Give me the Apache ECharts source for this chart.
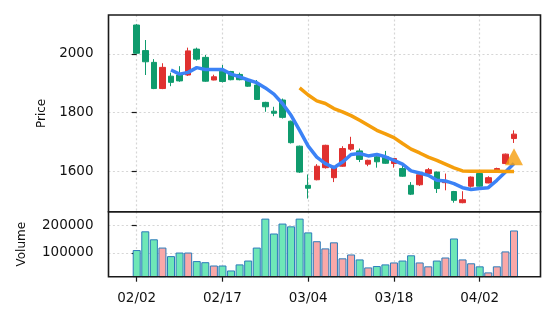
<!DOCTYPE html>
<html><head><meta charset="utf-8">
<script src="https://cdn.jsdelivr.net/npm/echarts@6/dist/echarts.min.js"></script>
<style>html,body{margin:0;padding:0;background:#fff}#c{width:556px;height:322px}</style>
</head><body><div id="c"></div>
<script>
const dates = ['02/02','02/03','02/04','02/05','02/06','02/09','02/10','02/12','02/13','02/16',
  '02/17','02/18','02/19','02/20','02/24','02/25','02/26','02/27','03/02','03/03',
  '03/04','03/05','03/06','03/09','03/10','03/11','03/12','03/13','03/16','03/17',
  '03/18','03/19','03/23','03/24','03/25','03/26','03/27','03/30','03/31','04/01',
  '04/02','04/03','04/06','04/07','04/08'];
const opens  = [2098,2011,1971,1882,1924,1928,1928,2016,1988,1911,1941,1940,1930,1913,1894,1835,1805,1843,1771,1686,
  1553,1572,1613,1579,1618,1676,1670,1625,1650,1650,1627,1610,1553,1555,1593,1598,1562,1532,1494,1550,1593,1561,1598,1627,1712];
const closes = [2002,1973,1882,1954,1903,1908,2010,1982,1907,1922,1906,1912,1912,1890,1845,1820,1798,1784,1698,1598,
  1543,1618,1689,1615,1678,1692,1641,1638,1633,1628,1644,1584,1523,1589,1606,1542,1566,1502,1504,1581,1550,1579,1610,1659,1727];
const lows   = [2000,1928,1880,1880,1890,1905,1925,1977,1905,1910,1903,1910,1910,1888,1843,1803,1788,1780,1695,1595,
  1508,1570,1610,1564,1616,1670,1632,1618,1613,1626,1613,1582,1520,1551,1590,1527,1536,1494,1492,1545,1548,1560,1596,1625,1697];
const highs  = [2101,2047,1982,1968,1936,1958,2021,2021,1996,1929,1962,1942,1936,1915,1911,1837,1820,1848,1773,1688,
  1590,1625,1691,1620,1686,1718,1678,1640,1652,1670,1646,1621,1564,1591,1612,1600,1593,1534,1533,1583,1595,1584,1613,1661,1740];
const volumes = [110000,178000,149000,119000,88000,101000,101000,70000,66000,54000,54000,36000,58000,72000,119000,224000,170000,206000,196000,224000,
  174000,142000,116000,138000,80000,94000,76000,47000,52000,58000,65000,72000,91000,65000,51000,72000,83000,152000,76000,62000,51000,29000,51000,105000,181000];
const maShort = [null,null,null,null,1945,1931,1937,1953,1947,1947,1947,1931,1922,1911,1902,1884,1863,1831,1791,1740,
  1686,1649,1627,1613,1632,1658,1661,1653,1658,1650,1638,1625,1602,1595,1587,1570,1568,1559,1545,1539,1542,1545,1570,1598,1627];
const maLong = [null,null,null,null,null,null,null,null,null,null,null,null,null,null,null,null,null,null,null,1884,
  1860,1840,1831,1814,1803,1790,1774,1757,1740,1728,1715,1695,1676,1663,1649,1638,1625,1612,1602,1601,1601,1601,1601,1600,1600];
const signalIndex = [44];
const signalPrice = [1650];
const priceTicks = [1600,1800,2000];
const volumeTicks = [100000,200000];
const dateTicks = [0,10,20,30,40];

const RED = '#e0302f', GREEN = '#0f9b6d';
const FONT = 'DejaVu Sans';
const candleData = dates.map((d,i)=>[i, opens[i], closes[i], lows[i], highs[i]]);
const volData = dates.map((d,i)=>({value:[i, volumes[i]], itemStyle:{color: closes[i] >= opens[i] ? '#f9a8a8' : '#6ee7b7'}}));
const toPts = arr => arr.map((v,i)=> v==null ? null : [i, v]).filter(p=>p);
const gridLine = {show:true, lineStyle:{color:'#d6d6d6', width:1.2, type:[2,2.4]}};
const X_MIN = -3.29, X_MAX = 47.09;
const plain = v => String(Math.round(v));

const chart = echarts.init(document.getElementById('c'), null, {renderer:'canvas'});
chart.setOption({
  animation:false,
  backgroundColor:'#fff',
  textStyle:{fontFamily:FONT},
  grid:[
    {left:108.5, top:15, right:15.5, height:196.8, show:true, z:10, backgroundColor:'transparent', borderColor:'#1a1a1a', borderWidth:1.6},
    {left:108.5, top:211.8, right:15.5, height:64.9, show:true, z:10, backgroundColor:'transparent', borderColor:'#1a1a1a', borderWidth:1.6}
  ],
  xAxis:[
    {type:'value', gridIndex:0, min:X_MIN, max:X_MAX, axisLine:{show:false},
     axisTick:{show:false, customValues:dateTicks}, axisLabel:{show:false}, splitLine:gridLine},
    {type:'value', gridIndex:1, min:X_MIN, max:X_MAX, axisLine:{show:false},
     axisTick:{show:true, length:5, lineStyle:{color:'#1a1a1a', width:1.2}, customValues:dateTicks},
     axisLabel:{show:true, customValues:dateTicks, formatter:v=>dates[Math.round(v)], fontSize:13.5, color:'#111', fontFamily:FONT, margin:14.5},
     splitLine:gridLine}
  ],
  yAxis:[
    {type:'value', gridIndex:0, min:1463, max:2132, splitNumber:3, scale:true, axisLine:{show:false},
     axisTick:{show:true, length:5, lineStyle:{color:'#1a1a1a', width:1.2}, customValues:priceTicks},
     axisLabel:{customValues:priceTicks, formatter:plain, fontSize:13.5, color:'#111', fontFamily:FONT, margin:15},
     splitLine:gridLine,
     name:'Price', nameLocation:'middle', nameGap:59, nameTextStyle:{fontSize:12, color:'#111', fontFamily:FONT}},
    {type:'value', gridIndex:1, min:13400, max:248700, splitNumber:2, axisLine:{show:false},
     axisTick:{show:true, length:5, lineStyle:{color:'#1a1a1a', width:1.2}, customValues:volumeTicks},
     axisLabel:{customValues:volumeTicks, formatter:plain, fontSize:13.5, color:'#111', fontFamily:FONT, margin:15},
     splitLine:gridLine,
     name:'Volume', nameLocation:'middle', nameGap:81, nameTextStyle:{fontSize:12, color:'#111', fontFamily:FONT}}
  ],
  series:[
    {type:'candlestick', xAxisIndex:0, yAxisIndex:0, data:candleData, barWidth:6,
     dimensions:['idx','open','close','lowest','highest'],
     encode:{x:0, y:[1,2,3,4]},
     itemStyle:{color:RED, color0:GREEN, borderColor:RED, borderColor0:GREEN, borderWidth:1}},
    {type:'line', xAxisIndex:0, yAxisIndex:0, data:toPts(maShort), showSymbol:false, z:3,
     lineStyle:{color:'#3b82f6', width:3.5}},
    {type:'line', xAxisIndex:0, yAxisIndex:0, data:toPts(maLong), showSymbol:false, z:3,
     lineStyle:{color:'#f59e0b', width:3.5}},
    {type:'scatter', xAxisIndex:0, yAxisIndex:0, data:signalIndex.map((x,k)=>[x, signalPrice[k]]), z:4,
     symbol:'triangle', symbolSize:[18,17], itemStyle:{color:'#f59e0b'}},
    {type:'bar', xAxisIndex:1, yAxisIndex:1, data:volData, barWidth:8,
     itemStyle:{borderColor:'#2b7bba', borderWidth:1}}
  ]
});
</script></body></html>
